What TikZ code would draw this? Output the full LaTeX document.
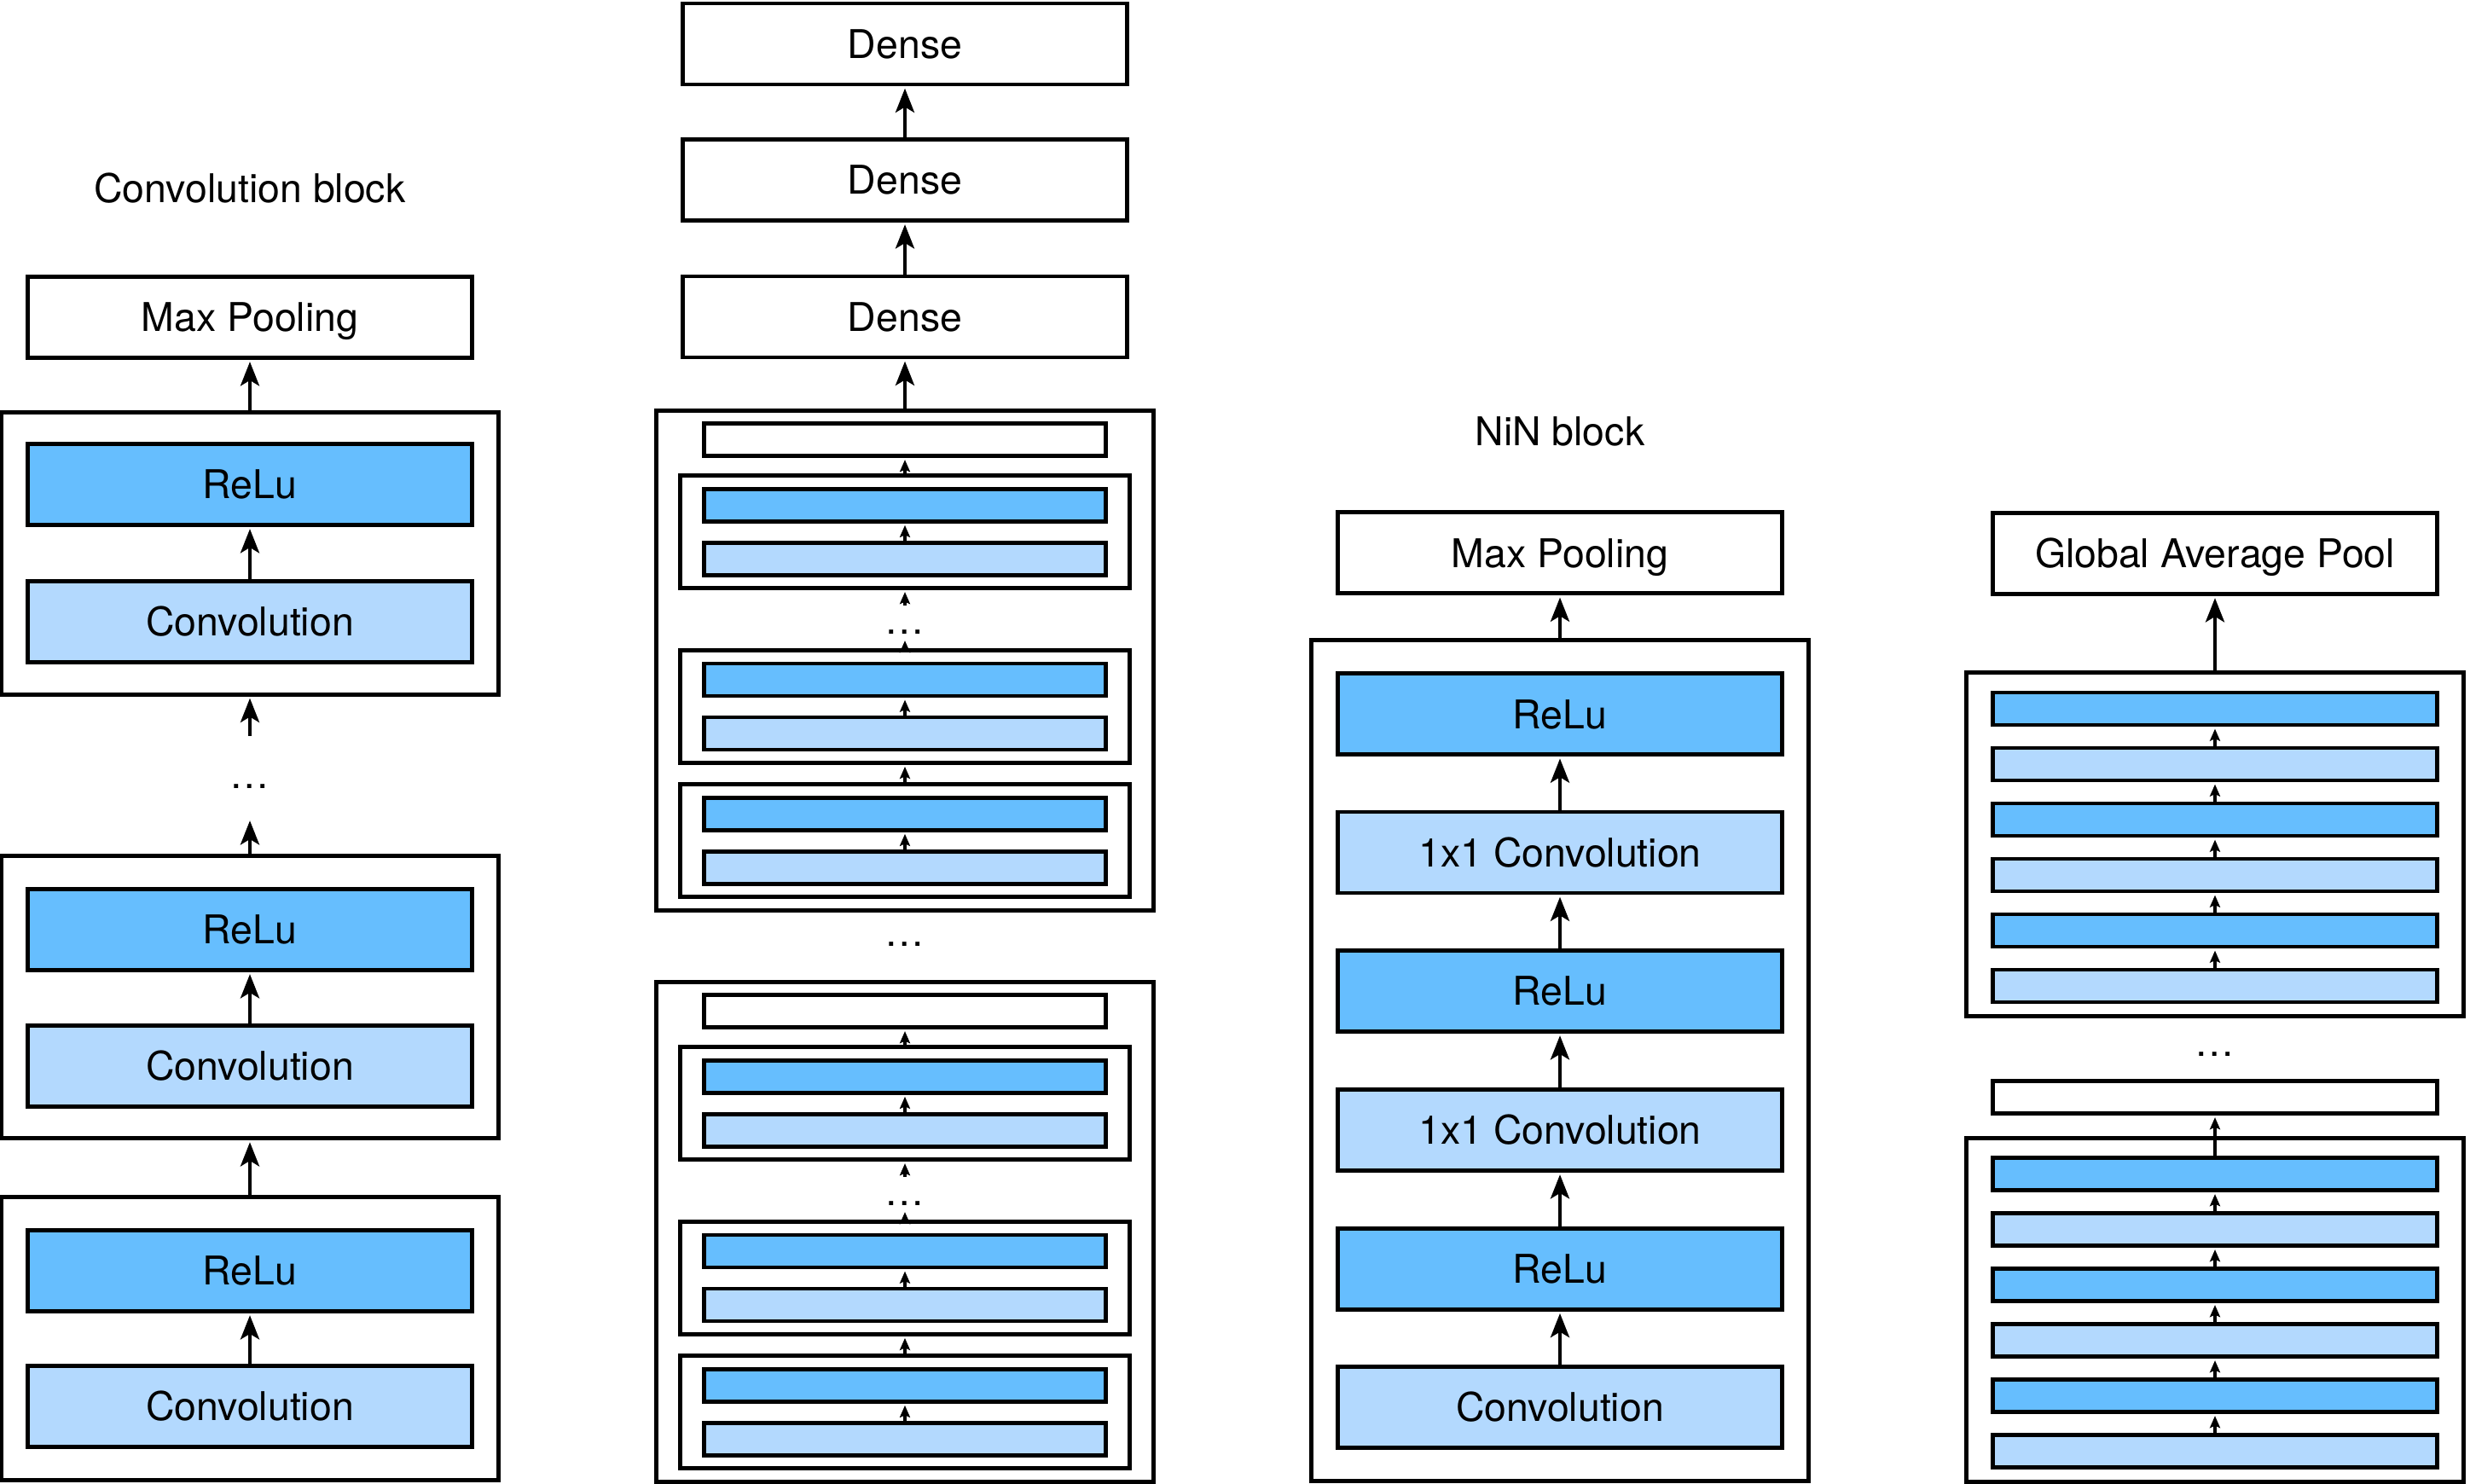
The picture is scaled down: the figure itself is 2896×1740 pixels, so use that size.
\documentclass[tikz,border=0pt]{standalone}
\usepackage{fontspec}
\setmainfont{TeX Gyre Heros}
\usetikzlibrary{arrows.meta}
\definecolor{reludark}{HTML}{66BEFE}
\definecolor{convlight}{HTML}{B3D9FE}

\begin{document}
\begin{tikzpicture}[x=0.01cm, y=-0.01cm,
	lbl/.style={font=\fontsize{13.2}{15}\selectfont, inner sep=0pt, text height=9.5pt, text depth=0pt},
	ellip/.style={font=\fontsize{13.2}{15}\selectfont, inner sep=0pt},
	layer/.style={lbl, draw, line width=1.4pt, fill=white, minimum width=5.21cm, minimum height=0.95cm},
	relu/.style={layer, fill=reludark},
	conv/.style={layer, fill=convlight},
	blk/.style={draw, line width=1.4pt, minimum width=5.82cm, inner sep=0pt},
	sub/.style={draw, line width=1.4pt, minimum width=5.27cm, minimum height=1.315cm, inner sep=0pt},
	bar/.style={draw, line width=1.4pt, fill=white, minimum width=4.71cm, minimum height=0.38cm, inner sep=0pt},
	arr/.style={-{Stealth[length=8pt, width=6.2pt, inset=1.8pt]}, line width=1.4pt, shorten >=0.6pt},
	smallarr/.style={-{Stealth[length=4pt, width=3.4pt, inset=0.7pt]}, line width=1.4pt, shorten >=0.6pt}]

	\useasboundingbox (0,0) rectangle (2896,1740);

	\node[lbl] (convtitle) at (293,221) {Convolution block};
	\node[layer] (pool1) at (293,372) {Max Pooling};
	\node[blk, minimum height=3.30cm] (cblk1) at (293,649) {};
	\node[relu] (crelu1) at (293,568) {ReLu};
	\node[conv] (cconv1) at (293,729) {Convolution};
	\node[blk, minimum height=3.31cm] (cblk2) at (293,1169) {};
	\node[relu] (crelu2) at (293,1090) {ReLu};
	\node[conv] (cconv2) at (293,1250) {Convolution};
	\node[blk, minimum height=3.31cm] (cblk3) at (293,1569.5) {};
	\node[relu] (crelu3) at (293,1490) {ReLu};
	\node[conv] (cconv3) at (293,1649) {Convolution};
	\node[ellip] (cdots) at (293,922) {…};
	\coordinate (cin) at (293,863);
	\coordinate (cout) at (293,960);
	\draw[arr] (cblk1.north) -- (pool1.south);
	\foreach \i in {1,2,3}
		\draw[arr] (cconv\i.north) -- (crelu\i.south);
	\draw[arr] (cin) -- (cblk1.south);
	\draw[arr] (cblk2.north) -- (cout);
	\draw[arr] (cblk3.north) -- (cblk2.south);

	\node[layer] (dense1) at (1061,51.5) {Dense};
	\node[layer] (dense2) at (1061,211) {Dense};
	\node[layer] (dense3) at (1061,371.5) {Dense};
	\draw[arr] (dense3) -- (dense2);
	\draw[arr] (dense2) -- (dense1);
	\foreach \n/\o in {A/0, B/670} {
		\node[blk, minimum height=5.85cm] (vgg\n) at (1061,774.5+\o) {};
		\node[bar] (vtop\n) at (1061,515.5+\o) {};
		\foreach \k/\c in {1/623.7, 2/828.5, 3/985.7} {
			\node[sub] (vsub\n\k) at (1061,\c+\o) {};
			\node[bar, fill=reludark] (vrelu\n\k) at (1061,\c+\o-31.5) {};
			\node[bar, fill=convlight] (vconv\n\k) at (1061,\c+\o+31.5) {};
			\draw[smallarr] (vconv\n\k) -- (vrelu\n\k);
		}
		\node[ellip] (vdots\n) at (1061,741+\o) {…};
		\coordinate (vin\n) at (1061,710+\o);
		\coordinate (vout\n) at (1061,749+\o);
		\draw[smallarr] (vsub\n1) -- (vtop\n);
		\draw[smallarr] (vin\n) -- (vsub\n1);
		\draw[smallarr] (vsub\n2) -- (vout\n);
		\draw[smallarr] (vsub\n3) -- (vsub\n2);
	}
	\node[ellip] (vdots) at (1061,1107) {…};
	\draw[arr] (vggA) -- (dense3);

	\node[lbl] (nintitle) at (1829,506) {NiN block};
	\node[layer] (pool3) at (1829,648.4) {Max Pooling};
	\node[blk, minimum height=9.85cm] (ninblk) at (1829,1243.5) {};
	\node[relu] (nrelu1) at (1829,837.3) {ReLu};
	\node[conv] (nmlp1) at (1829,999.5) {1x1 Convolution};
	\node[relu] (nrelu2) at (1829,1162) {ReLu};
	\node[conv] (nmlp2) at (1829,1325) {1x1 Convolution};
	\node[relu] (nrelu3) at (1829,1487.7) {ReLu};
	\node[conv] (nconv) at (1829,1649.6) {Convolution};
	\draw[arr] (ninblk.north) -- (pool3.south);
	\draw[arr] (nconv) -- (nrelu3);
	\draw[arr] (nrelu3) -- (nmlp2);
	\draw[arr] (nmlp2) -- (nrelu2);
	\draw[arr] (nrelu2) -- (nmlp1);
	\draw[arr] (nmlp1) -- (nrelu1);

	\node[layer] (gap) at (2597,649) {Global Average Pool};
	\foreach \n/\o in {C/0, D/545.5} {
		\node[blk, minimum height=4.03cm] (nblk\n) at (2597,990.3+\o) {};
		\foreach \k/\c/\f in {1/831/reludark, 2/896/convlight, 3/961/reludark, 4/1026/convlight, 5/1091/reludark, 6/1156/convlight}
			\node[bar, minimum width=5.2cm, fill=\f] (nbar\n\k) at (2597,\c+\o) {};
		\foreach \j/\k in {1/2, 2/3, 3/4, 4/5, 5/6}
			\draw[smallarr] (nbar\n\k) -- (nbar\n\j);
	}
	\node[ellip] (ndots) at (2597,1236) {…};
	\node[bar, minimum width=5.2cm] (nflat) at (2597,1286.5) {};
	\draw[arr] (nblkC) -- (gap);
	\draw[smallarr] (nbarD1) -- (nflat);
\end{tikzpicture}
\end{document}
